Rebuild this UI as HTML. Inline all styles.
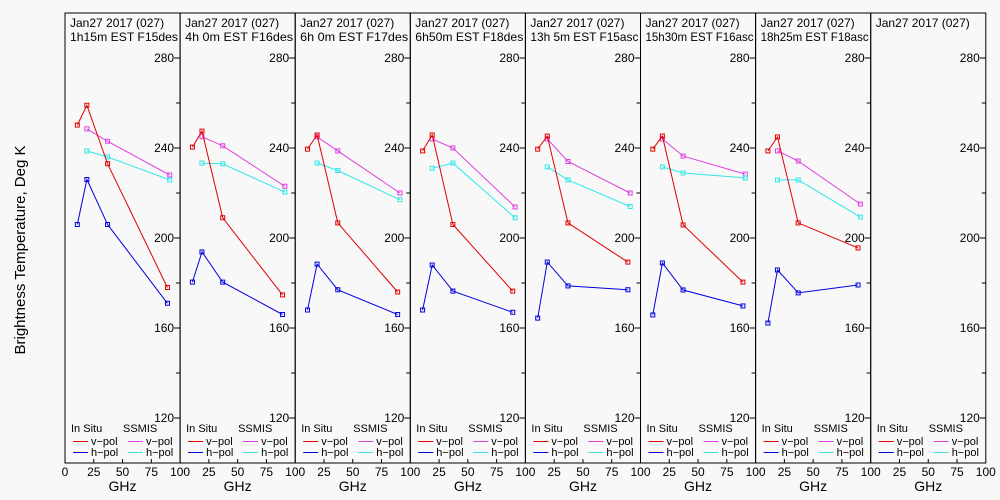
<!DOCTYPE html>
<html><head><meta charset="utf-8">
<style>
html,body{margin:0;padding:0;background:#f8f8f8;}
svg{display:block;font-family:"Liberation Sans",sans-serif;}
</style></head>
<body>
<svg id="chart" width="1000" height="500" viewBox="0 0 1000 500">
<rect x="0" y="0" width="1000" height="500" fill="#f8f8f8"/>
<text x="25" y="250" font-size="15" text-anchor="middle" transform="rotate(-90 25 250)">Brightness Temperature, Deg K</text>
</svg>
<script>
const titles1 = ["Jan27 2017 (027)","Jan27 2017 (027)","Jan27 2017 (027)","Jan27 2017 (027)","Jan27 2017 (027)","Jan27 2017 (027)","Jan27 2017 (027)","Jan27 2017 (027)"];
const titles2 = ["1h15m EST F15des","4h 0m EST F16des","6h 0m EST F17des","6h50m EST F18des","13h 5m EST F15asc","15h30m EST F16asc","18h25m EST F18asc",""];
const insituFreq = [10.7, 19, 37, 89];
const ssmisFreq = [19, 37, 91];
const insituV = [[250.2,259,233,178],[240.4,247.5,209,174.7],[239.5,245.8,206.7,176],[238.7,245.8,206,176.4],[239.5,245.3,206.7,189.3],[239.5,245.3,205.8,180.4],[238.7,244.9,206.7,195.6],null];
const insituH = [[206,226,206,171],[180.4,193.8,180.4,166],[168,188.4,177,166],[168,188,176.4,167],[164.4,189.3,178.7,177],[165.8,188.9,176.9,169.8],[162.2,185.8,175.6,179.1],null];
const ssmisV = [[248.5,243,228],[245,241,223],[245,238.7,220],[244,240,213.8],[244,234,220],[244,236.4,228.4],[238.7,234.2,215.1],null];
const ssmisH = [[238.7,236,225.8],[233.3,233,220.4],[233.3,230,217],[231,233.3,209],[231.6,225.8,214],[231.6,228.9,226.7],[225.8,225.8,209.3],null];
const yTicks = [120,160,200,240,280];
const xTicks = [0,25,50,75,100];

const NS="http://www.w3.org/2000/svg";
const svgEl=document.getElementById('chart');
const panelLeft=65, panelW=115.1, plotTop=13, plotBottom=463;
function yScale(t){return 58+(280-t)*2.25;}
function xScale(p,f){return panelLeft+p*panelW+f*panelW/100;}
function mk(tag,attrs){const e=document.createElementNS(NS,tag);for(const k in attrs)e.setAttribute(k,attrs[k]);svgEl.appendChild(e);return e;}
function series(p,freqs,vals,color,name){
  if(!vals)return;
  const pts=freqs.map((f,i)=>xScale(p,f).toFixed(1)+','+yScale(vals[i]).toFixed(1)).join(' ');
  const l=mk('polyline',{points:pts,fill:'none',stroke:color,'stroke-width':1});
  
  
  freqs.forEach((f,i)=>{
    const r=mk('rect',{x:xScale(p,f)-2,y:yScale(vals[i])-2,width:4,height:4,fill:'none',stroke:color,'stroke-width':1});
    
    
  });
}
for(let p=0;p<8;p++){
  const x0=xScale(p,0), x1=xScale(p,100);
  const fr=mk('rect',{x:x0,y:plotTop,width:panelW,height:plotBottom-plotTop,fill:'none',stroke:'#000','stroke-width':1});
  
  
  const t1=mk('text',{x:x0+5,y:27,'font-size':12});t1.textContent=titles1[p];
  
  
  const t2=mk('text',{x:x0+5,y:41,'font-size':12});t2.textContent=titles2[p];
  if(titles2[p]){t2.setAttribute('textLength','108');t2.setAttribute('lengthAdjust','spacingAndGlyphs');}
  
  
  for(let t=120;t<=280;t+=20){
    const major=yTicks.includes(t);
    const tk=mk('line',{x1:x1-(major?6:4),x2:x1,y1:yScale(t),y2:yScale(t),stroke:'#000'});
    
    
  }
  yTicks.forEach(t=>{
    const lb=mk('text',{x:x1-6,y:yScale(t)+4,'font-size':12,'text-anchor':'end'});lb.textContent=t;
    
    
  });
  xTicks.forEach(f=>{
    if(f>0&&f<100){const tk=mk('line',{x1:xScale(p,f),x2:xScale(p,f),y1:plotBottom,y2:plotBottom-4,stroke:'#000'});
      
      }
    if(p>0&&f===0)return;
    const lb=mk('text',{x:xScale(p,f),y:476,'font-size':12,'text-anchor':'middle'});lb.textContent=f;
    
    
  });
  const g=mk('text',{x:x0+panelW/2,y:491,'font-size':14,'text-anchor':'middle'});g.textContent='GHz';
  
  
  const leg=[['In Situ',x0+6,432],['SSMIS',x0+58,432]];
  leg.forEach(a=>{const e=mk('text',{x:a[1],y:a[2],'font-size':11});e.textContent=a[0];
    
    });
  const items=[['v-pol','#e00000',x0+8,442],['h-pol','#0000e0',x0+8,453],['v-pol','#e040e0',x0+63,442],['h-pol','#40e0e0',x0+63,453]];
  items.forEach(a=>{
    const l=mk('line',{x1:a[2],x2:a[2]+15,y1:a[3]-0.5,y2:a[3]-0.5,stroke:a[1]});
    
    
    const e=mk('text',{x:a[2]+18,y:a[3]+3,'font-size':11});e.textContent=a[0].replace('-','\u2212');
    
    
  });
  series(p,ssmisFreq,ssmisV[p],'#e040e0','ssmis-v');
  series(p,ssmisFreq,ssmisH[p],'#30e8e8','ssmis-h');
  series(p,insituFreq,insituV[p],'#e00000','insitu-v');
  series(p,insituFreq,insituH[p],'#0000e0','insitu-h');
}
</script>
</body></html>
